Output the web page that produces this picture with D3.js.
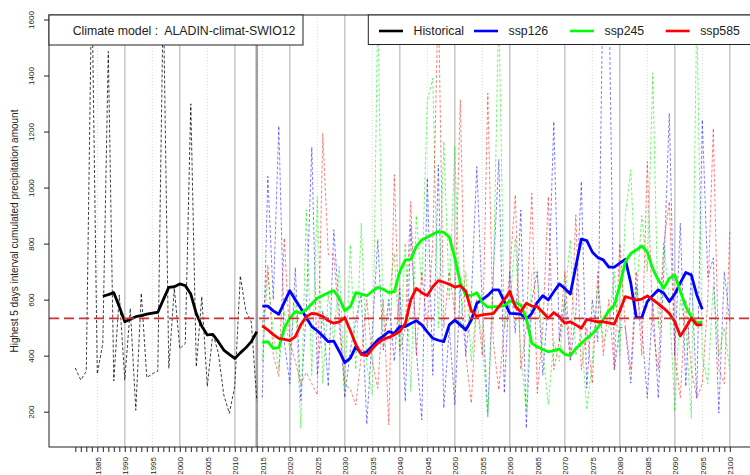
<!DOCTYPE html>
<html>
<head>
<meta charset="utf-8">
<script src="https://cdn.jsdelivr.net/npm/d3@7"></script>
<style>
  html, body { margin: 0; padding: 0; background: #fff; }
  svg { display: block; font-family: "Liberation Sans", Arial, sans-serif; }
  text { white-space: pre; }
</style>
</head>
<body>
<svg id="chart" width="750" height="475"></svg>
<script>
// ---------------- DATA ----------------
const histYears = d3.range(1981, 2015);
const histRaw = [356,313,345,1750,335,444,1486,310,617,313,
                 569,205,623,322,335,345,1700,355,641,425,
                 444,1299,360,611,290,480,410,260,194,290,
                 685,560,520,240];
const histSmoothYears = d3.range(1986, 2015);
const histSmooth = [612,618,625,575,521,530,539,543,548,552,
                    555,600,644,646,656,650,620,550,505,474,
                    476,450,420,405,390,410,428,450,486];

const sspYears = d3.range(2015, 2101);
const ssp126Raw = [250,1040,600,1220,450,300,715,240,560,1145,
                   330,560,290,850,560,250,420,520,620,155,
                   480,815,420,600,380,640,236,867,420,171,
                   1034,330,1081,213,500,224,650,400,600,1075,
                   580,190,700,1100,266,700,480,920,141,600,
                   700,330,600,1236,450,600,380,550,1022,284,
                   600,450,1800,1750,350,500,500,302,650,500,
                   248,600,248,700,1266,400,873,290,700,248,
                   1242,680,748,195,700,520];
const ssp245Raw = [380,700,480,350,560,420,620,141,921,330,
                   968,300,620,450,718,280,796,350,873,360,
                   260,1650,430,600,766,400,802,272,900,650,
                   1308,1391,500,1165,600,1147,500,700,379,600,
                   450,177,650,1650,500,580,820,400,207,695,
                   700,420,225,450,380,600,814,400,480,207,
                   380,659,450,500,700,400,900,1064,600,900,
                   700,1410,500,800,600,201,600,500,177,1650,
                   400,300,650,400,500,350];
const ssp585Raw = [500,724,400,326,820,450,380,300,340,300,
                   260,1194,760,760,500,300,280,224,400,600,
                   380,284,600,153,1046,420,500,950,400,700,
                   500,800,1700,500,700,550,1313,400,230,600,
                   400,1337,450,278,500,700,974,350,500,980,
                   266,500,968,350,450,700,400,903,350,500,
                   300,700,400,600,350,800,500,350,700,400,
                   1093,500,350,800,950,400,250,600,350,248,
                   300,600,1212,350,300,843];

const smoothYears = d3.range(2015, 2096);
const ssp126Smooth = [577,577,560,548,590,632,600,569,535,504,
                      489,470,450,452,415,375,391,432,406,414,
                      435,456,470,486,480,504,504,515,525,510,
                      485,462,455,450,510,527,510,492,527,587,
                      600,615,635,635,593,551,550,548,530,551,
                      590,614,599,628,656,640,620,718,816,811,
                      770,750,742,716,716,730,744,659,536,536,
                      593,615,635,623,593,620,660,697,688,617,
                      566];
const ssp245Smooth = [447,450,426,429,498,535,557,552,565,585,
                      605,615,625,632,605,561,575,625,620,614,
                      630,644,637,625,629,700,742,744,790,813,
                      823,833,843,840,823,750,660,615,615,625,
                      590,573,575,575,578,595,590,581,534,444,
                      432,422,414,418,424,405,400,425,444,462,
                      478,500,530,560,580,650,735,765,777,792,
                      770,710,670,641,676,688,630,575,540,516,
                      521];
const ssp585Smooth = [506,492,475,462,458,454,468,510,540,551,
                      548,540,525,516,521,536,490,440,405,400,
                      425,445,459,465,475,486,515,600,640,625,
                      615,646,668,662,655,645,650,630,560,540,
                      546,548,550,575,600,629,575,557,587,577,
                      575,555,534,554,539,516,521,510,498,530,
                      525,521,521,517,513,560,611,605,598,602,
                      613,600,585,569,551,521,470,500,534,510,
                      510];

const referenceValue = 533;
const yTicks = [200,400,600,800,1000,1200,1400,1600];
const xTickYears = d3.range(1981, 2101);
const legendNames = ["Historical","ssp126","ssp245","ssp585"];
const legendColors = ["#000000","#0000ff","#00ff00","#ff0000"];
const titleText = "Climate model :  ALADIN-climat-SWIO12";
const yTitle = "Highest 5 days interval cumulated precipitation amount";

// ---------------- LAYOUT ----------------
const plot = {left: 49, top: 15, right: 762, bottom: 447};
const svg = d3.select("#chart");
const x = d3.scaleLinear().domain([1985, 2100]).range([97.3, 729.8]);
const y = d3.scaleLinear().domain([200, 1600]).range([411.7, 19.5]);

svg.append("defs").append("clipPath").attr("id","clip")
  .append("rect").attr("x",plot.left).attr("y",plot.top)
  .attr("width",plot.right-plot.left).attr("height",plot.bottom-plot.top);

// grid lines
const gridG = svg.append("g").attr("clip-path","url(#clip)");
d3.range(1985, 2101, 5).forEach(yr => {
  const decade = yr % 10 === 0;
  gridG.append("line")
    .attr("x1", x(yr)).attr("x2", x(yr))
    .attr("y1", plot.top).attr("y2", plot.bottom)
    .attr("stroke", decade ? "#c4c4c4" : "#d6d6d6")
    .attr("stroke-width", decade ? 1.4 : 1)
    .attr("stroke-dasharray", decade ? null : "1,2");
});
gridG.append("line")
  .attr("x1", x(2014)).attr("x2", x(2014))
  .attr("y1", plot.top).attr("y2", plot.bottom)
  .attr("stroke", "#a0a0a0").attr("stroke-width", 2.6);

// data lines
const dataG = svg.append("g").attr("clip-path","url(#clip)");
const line = d3.line().x(d => x(d[0])).y(d => y(d[1]));
function pairs(years, vals) { return years.map((yr,i) => [yr, vals[i]]); }

function rawLine(years, vals, color, op) {
  dataG.append("path").datum(pairs(years, vals))
    .attr("d", line).attr("fill","none")
    .attr("stroke", color).attr("stroke-opacity", op)
    .attr("stroke-width", 1).attr("stroke-dasharray","3,2");
}
rawLine(histYears, histRaw, "#000000", 0.75);
rawLine(sspYears, ssp126Raw, "#0000ff", 0.5);
rawLine(sspYears, ssp245Raw, "#00ee00", 0.55);
rawLine(sspYears, ssp585Raw, "#ff0000", 0.5);

function smoothLine(years, vals, color) {
  dataG.append("path").datum(pairs(years, vals))
    .attr("d", line).attr("fill","none")
    .attr("stroke", color).attr("stroke-width", 2.8)
    .attr("stroke-linejoin","round");
}
smoothLine(histSmoothYears, histSmooth, "#000000");
smoothLine(smoothYears, ssp126Smooth, "#0000ff");
smoothLine(smoothYears, ssp245Smooth, "#00ff00");
smoothLine(smoothYears, ssp585Smooth, "#ff0000");

// reference line
dataG.append("line")
  .attr("x1", plot.left).attr("x2", plot.right)
  .attr("y1", y(referenceValue)).attr("y2", y(referenceValue))
  .attr("stroke", "#cc3333").attr("stroke-width", 1.8)
  .attr("stroke-dasharray", "10,5");

// plot frame
svg.append("rect")
  .attr("x", plot.left).attr("y", plot.top)
  .attr("width", plot.right-plot.left).attr("height", plot.bottom-plot.top)
  .attr("fill","none").attr("stroke","#222").attr("stroke-width",1);

// x axis
const xAxis = d3.axisBottom(x).tickValues(xTickYears).tickSize(5).tickPadding(3)
  .tickFormat(d => d % 5 === 0 ? String(d) : "");
const xg = svg.append("g").attr("transform", `translate(0,${plot.bottom})`).call(xAxis);
xg.select(".domain").remove();
xg.selectAll(".tick line").attr("stroke","#222");
xg.selectAll(".tick text")
  .attr("font-size", 8).attr("fill","#222")
  .attr("transform", "rotate(-90)")
  .attr("text-anchor","end")
  .attr("x", -10).attr("y", 0).attr("dy","0.35em");

// y axis
const yAxis = d3.axisLeft(y).tickValues(yTicks).tickSize(5).tickFormat(d3.format("d"));
const yg = svg.append("g").attr("transform", `translate(${plot.left},0)`).call(yAxis);
yg.select(".domain").remove();
yg.selectAll(".tick line").attr("stroke","#222");
yg.selectAll(".tick text")
  .attr("font-size", 8).attr("fill","#222")
  .attr("transform", "rotate(-90)")
  .attr("text-anchor","middle")
  .attr("x", 0).attr("y", -15).attr("dy","0");

// y title
svg.append("text")
  .attr("transform", `translate(18,${(plot.top+plot.bottom)/2}) rotate(-90)`)
  .attr("text-anchor","middle").attr("font-size", 10).attr("fill","#222")
  .text(yTitle);

// title box
svg.append("rect").attr("x", plot.left).attr("y", plot.top)
  .attr("width", 254).attr("height", 30)
  .attr("fill","#fff").attr("stroke","#222").attr("stroke-width",1);
svg.append("text").attr("x", 72.7).attr("y", 35)
  .attr("font-size", 12.3).attr("fill","#222")
  .attr("xml:space","preserve").text(titleText);

// legend box
svg.append("rect").attr("x", 368.3).attr("y", plot.top)
  .attr("width", 420).attr("height", 29.5)
  .attr("fill","#fff").attr("stroke","#222").attr("stroke-width",1);
const legX = [379, 474, 570, 665.7];
legendNames.forEach((name, i) => {
  svg.append("line").attr("x1", legX[i]).attr("x2", legX[i]+24)
    .attr("y1", 31).attr("y2", 31)
    .attr("stroke", legendColors[i]).attr("stroke-width", 2.6);
  svg.append("text").attr("x", legX[i]+34.5).attr("y", 35.3)
    .attr("font-size", 12.3).attr("fill","#222").text(name);
});
</script>
</body>
</html>
